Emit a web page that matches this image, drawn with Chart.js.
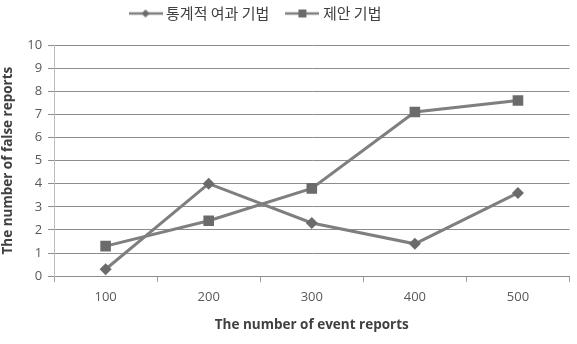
<!DOCTYPE html>
<html>
<head>
<meta charset="utf-8">
<script src="https://cdn.jsdelivr.net/npm/chart.js@4"></script>
<style>
  body { margin: 0; background: #fff; }
</style>
</head>
<body>
<canvas id="myChart" width="577" height="344"></canvas>
<script>
// data
const categories = ['100', '200', '300', '400', '500'];
const statValues = [0.3, 4.0, 2.3, 1.4, 3.6];
const proposedValues = [1.3, 2.4, 3.8, 7.1, 7.6];
const seriesNames = ['통계적 여과 기법', '제안 기법'];

const lineColor = '#7f7f7f';
const markColor = '#6b6b6b';
const hangulFont = "'Noto Sans CJK KR', sans-serif";
const latinFont = "'Open Sans', 'Noto Sans', sans-serif";

// legend sample: short line with the marker in the middle
const legendIcon = (style) => {
  const c = document.createElement('canvas');
  c.width = 34;
  c.height = 12;
  const g = c.getContext('2d');
  g.strokeStyle = lineColor;
  g.lineWidth = 2.5;
  g.beginPath();
  g.moveTo(0, 6);
  g.lineTo(34, 6);
  g.stroke();
  g.fillStyle = markColor;
  if (style === 'rectRot') {
    g.beginPath();
    g.moveTo(17, 2);
    g.lineTo(21, 6);
    g.lineTo(17, 10);
    g.lineTo(13, 6);
    g.closePath();
    g.fill();
  } else {
    g.fillRect(13, 2, 8, 8);
  }
  return c;
};

// legend sits a bit left of centre with extra room under it
const legendTweak = {
  id: 'legendTweak',
  beforeInit(chart) {
    const fit = chart.legend.fit;
    chart.legend.fit = function () {
      fit.call(this);
      this.height += 14;
    };
  },
  afterLayout(chart) {
    chart.legend.left -= 31;
    chart.legend.right -= 31;
  },
};

const ctx = document.getElementById('myChart');

new Chart(ctx, {
  type: 'line',
  data: {
    labels: categories,
    datasets: [
      {
        label: seriesNames[0],
        data: statValues,
        borderColor: lineColor,
        backgroundColor: markColor,
        borderWidth: 3,
        pointStyle: 'rectRot',
        pointRadius: 6,
        pointBorderWidth: 0,
        tension: 0,
      },
      {
        label: seriesNames[1],
        data: proposedValues,
        borderColor: lineColor,
        backgroundColor: markColor,
        borderWidth: 3,
        pointStyle: 'rect',
        pointRadius: 7.5,
        pointBorderWidth: 0,
        tension: 0,
      },
    ],
  },
  options: {
    responsive: false,
    animation: false,
    layout: {
      padding: { left: 0, right: 1, top: -14, bottom: 11 },
    },
    plugins: {
      tooltip: { enabled: false },
      legend: {
        position: 'top',
        labels: {
          usePointStyle: true,
          pointStyleWidth: 26,
          color: '#404040',
          font: { family: hangulFont, size: 15 },
          padding: 20,
          generateLabels: (chart) =>
            chart.data.datasets.map((ds, i) => ({
              text: ds.label,
              pointStyle: legendIcon(ds.pointStyle),
              datasetIndex: i,
              fontColor: '#404040',
              lineWidth: 0,
            })),
        },
      },
    },
    scales: {
      x: {
        offset: true,
        grid: {
          offset: true,
          drawOnChartArea: false,
          drawTicks: true,
          tickLength: 6,
          color: '#a0a0a0',
        },
        border: { color: '#8c8c8c', width: 1 },
        ticks: {
          color: '#595959',
          font: { family: latinFont, size: 13 },
          padding: 7,
        },
        title: {
          display: true,
          text: 'The number of event reports',
          color: '#404040',
          font: { family: latinFont, size: 13.5, weight: 'bold' },
          padding: { top: 5, bottom: 0 },
        },
      },
      y: {
        min: 0,
        max: 10,
        ticks: {
          stepSize: 1,
          color: '#595959',
          font: { family: latinFont, size: 13 },
          padding: 6,
        },
        grid: {
          color: '#8c8c8c',
          tickLength: 6,
          lineWidth: 1,
        },
        border: { color: '#bdbdbd', width: 1 },
        title: {
          display: true,
          text: 'The number of false reports',
          color: '#404040',
          font: { family: latinFont, size: 13.5, weight: 'bold' },
          padding: { top: 0, bottom: 5 },
        },
      },
    },
  },
  plugins: [legendTweak],
});
</script>
</body>
</html>
